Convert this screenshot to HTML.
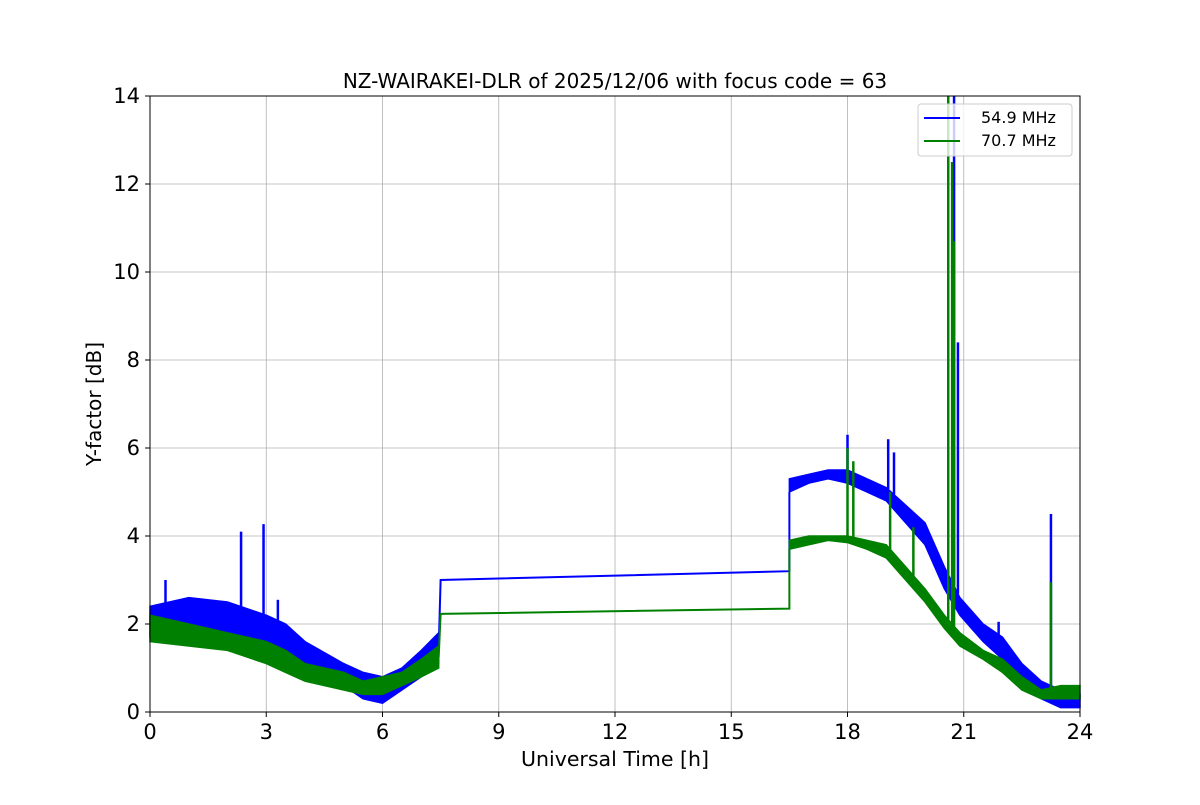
<!DOCTYPE html>
<html><head><meta charset="utf-8"><style>
body{margin:0;background:#fff;}
svg text{font-family:"DejaVu Sans","Liberation Sans",sans-serif;}
</style></head><body>
<svg id="chart" width="1200" height="800" xmlns="http://www.w3.org/2000/svg">
<rect width="1200" height="800" fill="#fff"/>
<g id="grid"></g>
<g id="series"></g>
<rect x="150" y="96" width="930" height="616" fill="none" stroke="#000" stroke-width="1"/>
<g id="ticks"></g>
<text x="615" y="88" text-anchor="middle" font-size="20">NZ-WAIRAKEI-DLR of 2025/12/06 with focus code = 63</text>
<text x="615" y="766" text-anchor="middle" font-size="20.5">Universal Time [h]</text>
<text x="101" y="404" text-anchor="middle" font-size="20" transform="rotate(-90 101 404)">Y-factor [dB]</text>
<g>
<rect x="918" y="104" width="154" height="52" rx="3" fill="#fff" fill-opacity="0.8" stroke="#ccc"/>
<g><line x1="924" y1="118" x2="960" y2="118" stroke="#0000ff" stroke-width="2"/><text x="981" y="123" font-size="16">54.9 MHz</text></g>
<g><line x1="924" y1="141" x2="960" y2="141" stroke="#008000" stroke-width="2"/><text x="981" y="146" font-size="16">70.7 MHz</text></g>
</g>
</svg>
<script>
const xTicks=[0,3,6,9,12,15,18,21,24];
const yTicks=[0,2,4,6,8,10,12,14];
const blueT=[0,1,2,3,3.5,4,5,5.5,6,6.5,7,7.45];
const blueLo=[1.7,1.8,1.7,1.5,1.3,1.0,0.6,0.3,0.2,0.5,0.8,1.1];
const blueHi=[2.4,2.6,2.5,2.2,2.0,1.6,1.1,0.9,0.8,1.0,1.4,1.8];
const blueT2=[16.5,17,17.5,18,18.5,19,19.5,20,20.5,20.9,21.5,22,22.5,23,23.5,24];
const blueLo2=[5.0,5.2,5.3,5.2,5.0,4.8,4.3,3.8,2.8,2.2,1.6,1.2,0.7,0.3,0.1,0.1];
const blueHi2=[5.3,5.4,5.5,5.5,5.3,5.1,4.7,4.3,3.3,2.6,2.0,1.7,1.1,0.7,0.5,0.4];
const blueGapT=[7.5,16.5];
const blueGapV=[3.0,3.2];
const blueSpikeT=[0.4,2.35,2.93,3.3,18,19.05,19.2,20.6,20.75,20.85,21.9,23.25];
const blueSpikeV=[3.0,4.1,4.27,2.55,6.3,6.2,5.9,14,14,8.4,2.05,4.5];
const greenT=[0,1,2,3,3.5,4,5,5.5,6,6.5,7,7.45];
const greenLo=[1.6,1.5,1.4,1.1,0.9,0.7,0.5,0.4,0.4,0.6,0.8,1.0];
const greenHi=[2.2,2.0,1.8,1.6,1.4,1.1,0.9,0.7,0.8,0.9,1.2,1.5];
const greenT2=[16.5,17,17.5,18,18.5,19,19.5,20,20.5,20.9,21.5,22,22.5,23,23.5,24];
const greenLo2=[3.7,3.8,3.9,3.85,3.7,3.5,3.0,2.5,1.9,1.5,1.2,0.9,0.5,0.3,0.3,0.3];
const greenHi2=[3.9,4.0,4.0,4.0,3.9,3.8,3.3,2.8,2.2,1.8,1.4,1.2,0.8,0.5,0.6,0.6];
const greenGapT=[7.5,16.5];
const greenGapV=[2.23,2.35];
const greenSpikeT=[18,18.15,19.1,19.7,20.6,20.7,20.75,23.25];
const greenSpikeV=[6.0,5.7,5.0,4.2,14,12.5,10.7,2.95];

const NS="http://www.w3.org/2000/svg";
const X=t=>150+t/24*930, Y=v=>712-v/14*616;
function mk(tag,attrs,parent){const e=document.createElementNS(NS,tag);for(const k in attrs)e.setAttribute(k,attrs[k]);parent.appendChild(e);return e;}
const grid=document.getElementById('grid'),ticks=document.getElementById('ticks'),ser=document.getElementById('series');
xTicks.forEach(t=>{
 const l=mk('line',{x1:X(t),x2:X(t),y1:96,y2:712,stroke:'#b0b0b0','stroke-width':0.8},grid);
 
 
 mk('line',{x1:X(t),x2:X(t),y1:712,y2:717,stroke:'#000'},ticks);
 const tx=mk('text',{x:X(t),y:739,'text-anchor':'middle','font-size':21},ticks);tx.textContent=t;
 
 
});
yTicks.forEach(v=>{
 const l=mk('line',{x1:150,x2:1080,y1:Y(v),y2:Y(v),stroke:'#b0b0b0','stroke-width':0.8},grid);
 
 
 mk('line',{x1:145,x2:150,y1:Y(v),y2:Y(v),stroke:'#000'},ticks);
 const tx=mk('text',{x:140,y:Y(v)+7,'text-anchor':'end','font-size':21},ticks);tx.textContent=v;
 
 
});
function band(T,lo,hi,col,name){
 let pts=T.map((t,i)=>X(t)+','+Y(hi[i]));
 for(let i=T.length-1;i>=0;i--)pts.push(X(T[i])+','+Y(lo[i]));
 const p=mk('polygon',{points:pts.join(' '),fill:col,stroke:col,'stroke-width':1.5},ser);
 
 
}
function interp(T,V,t){for(let j=0;j<T.length-1;j++)if(t>=T[j]&&t<=T[j+1])return V[j]+(V[j+1]-V[j])*(t-T[j])/(T[j+1]-T[j]);return null;}
function series(c,T,lo,hi,T2,lo2,hi2,gT,gV,sT,sV,nm){
 band(T,lo,hi,c,nm+'-band-early');
 band(T2,lo2,hi2,c,nm+'-band-late');
 const last=T.length-1;
 const g=mk('polyline',{points:[X(T[last])+','+Y((lo[last]+hi[last])/2),X(gT[0])+','+Y(gV[0]),X(gT[1])+','+Y(gV[1]),X(T2[0])+','+Y(lo2[0])].join(' '),fill:'none',stroke:c,'stroke-width':2},ser);
 
 
 sT.forEach((t,i)=>{
  let base=interp(T,hi,t);if(base===null)base=interp(T2,hi2,t);if(base===null)base=0;
  const s=mk('line',{x1:X(t),x2:X(t),y1:Y(base),y2:Y(Math.min(sV[i],14)),stroke:c,'stroke-width':2.5},ser);
  
  
 });
}
series('#0000ff',blueT,blueLo,blueHi,blueT2,blueLo2,blueHi2,blueGapT,blueGapV,blueSpikeT,blueSpikeV,'series-54.9');
series('#008000',greenT,greenLo,greenHi,greenT2,greenLo2,greenHi2,greenGapT,greenGapV,greenSpikeT,greenSpikeV,'series-70.7');
</script>
</body></html>
